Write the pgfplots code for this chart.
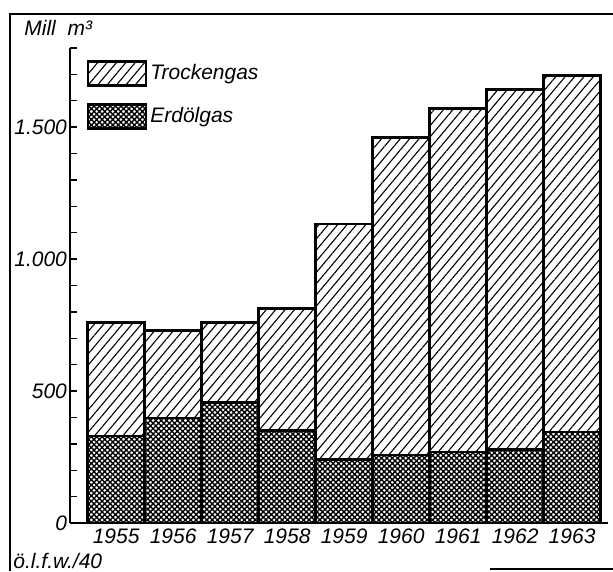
\documentclass[border=0pt]{standalone}
\usepackage{fontspec}
\setmainfont{Liberation Sans}
\usepackage{pgfplots}
\pgfplotsset{compat=1.18}
\usetikzlibrary{patterns.meta}

\pgfplotstableread{
x erdoel trocken
0 330 431
1 398 330
2 457 304
3 350 462
4 242 891
5 258 1204
6 269 1303
7 280 1364
8 345 1352
}\gasdata

\tikzset{
  trockstyle/.style={draw=black, line width=1.4pt, fill=white,
    pattern={Lines[angle=50,distance=3.6pt,line width=0.55pt]}},
  erdstyle/.style={draw=black, line width=1.4pt, fill=white,
    pattern={Hatch[angle=45,distance=1.9pt,line width=0.7pt]}},
}

\begin{document}
\begin{tikzpicture}[font=\fontsize{10.5}{12}\selectfont\itshape]
\useasboundingbox (-35pt,-24pt) rectangle (271.5pt,261.5pt);
\begin{axis}[
  at={(0,0)}, anchor=south west, scale only axis,
  width=269pt, height=237.5pt,
  xmin=-0.81, xmax=8.63, ymin=0, ymax=1800,
  ybar stacked, bar width=1,
  axis x line=bottom, axis y line=left,
  x axis line style={-, line width=1.2pt},
  y axis line style={-, line width=0.8pt},
  xtick={0,...,8},
  xticklabels={1955,1956,1957,1958,1959,1960,1961,1962,1963},
  x tick style={draw=none},
  x tick label style={yshift=0.5pt},
  ytick={0,500,1000,1500},
  yticklabels={0,500,{1.000},{1.500}},
  y tick label style={xshift=2pt},
  minor ytick={100,200,...,1800},
  y tick style={line width=0.7pt, black},
  tick align=inside,
  major tick length=3.5pt, minor tick length=3.5pt,
  tick label style={font=\fontsize{10.5}{12}\selectfont\itshape},
  reverse legend,
  legend style={at={(0.03,0.975)}, anchor=north west, draw=none, fill=none,
    font=\fontsize{10.5}{12}\selectfont\itshape, row sep=8pt, inner sep=0pt,
    nodes={inner sep=1.5pt}},
  legend cell align=left,
  legend image code/.code={\draw[#1] (0pt,-6pt) rectangle (29pt,6pt);},
]
\addplot[erdstyle] table[x=x,y=erdoel] {\gasdata};
\addlegendentry{Erdölgas}
\addplot[trockstyle] table[x=x,y=trocken] {\gasdata};
\addlegendentry{Trockengas}
\end{axis}
\draw[line width=0.8pt] (-30pt,-24pt) -- (-30pt,254.5pt) -- (271.5pt,254.5pt);
\draw[line width=0.6pt] (210pt,-23pt) -- (271.5pt,-23pt);
\node[anchor=west, inner sep=0pt] at (-23pt,247.5pt) {Mill\ \ m³};
\node[anchor=west, inner sep=0pt] at (-28.5pt,-19pt) {ö.l.f.w./40};
\end{tikzpicture}
\end{document}
